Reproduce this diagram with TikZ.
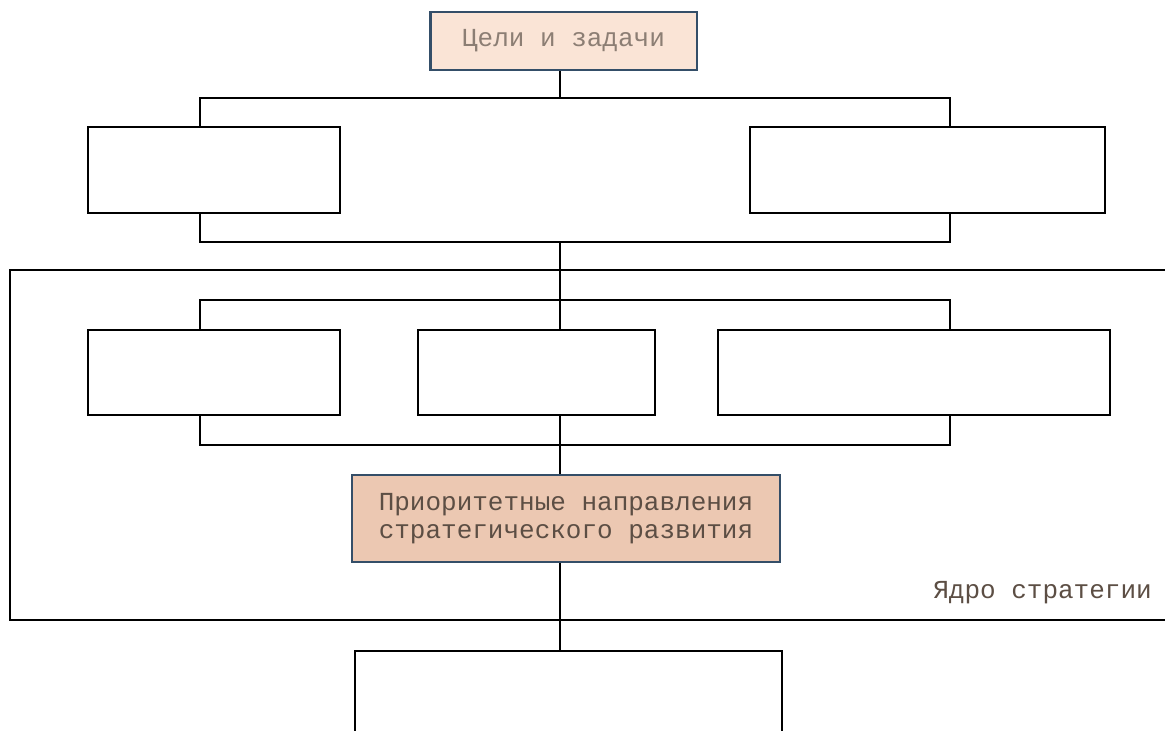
\documentclass[tikz,border=0pt]{standalone}
\usepackage{fontspec}
\setmonofont{Liberation Mono}
\usetikzlibrary{positioning}

\definecolor{peach}{RGB}{250,228,214}
\definecolor{peachdark}{RGB}{236,200,178}
\definecolor{rimblue}{RGB}{52,78,104}
\definecolor{inklight}{RGB}{140,126,116}
\definecolor{inkdark}{RGB}{92,78,68}

\tikzset{
  box/.style={draw=black, line width=1.3pt, fill=white, inner sep=0pt},
  keybox/.style={box, draw=rimblue, line width=2pt, align=center,
    font=\ttfamily\fontsize{19.5}{20.5}\selectfont},
  link/.style={draw=black, line width=1.3pt},
}

\begin{document}
\begin{tikzpicture}[x=0.75pt,y=0.75pt,yscale=-1,xscale=1]
  \useasboundingbox (0,0) rectangle (1165,731);
  \clip (0,0) rectangle (1165,731);

  % core frame
  \draw [link] (10,270) rectangle (1190,620);
  \node (core) [anchor=base east, inner sep=0pt, text=inkdark,
    font=\ttfamily\fontsize{19.5}{20.5}\selectfont] at (1152,598) {Ядро стратегии};

  % goals
  \node (goals) [keybox, fill=peach, text=inklight, minimum width=200pt, minimum height=43.5pt]
    at (563.5,41) {Цели и задачи};

  % first row
  \node (aL) [box, minimum width=189pt, minimum height=64.5pt] at (214,170) {};
  \node (aR) [box, minimum width=266pt, minimum height=64.5pt] at (927.5,170) {};

  % second row
  \node (bL) [box, minimum width=189pt, minimum height=63.75pt] at (214,372.5) {};
  \node (bM) [box, minimum width=177.75pt, minimum height=63.75pt] at (536.5,372.5) {};
  \node (bR) [box, minimum width=294pt, minimum height=63.75pt] at (914,372.5) {};

  % priorities
  \node (prio) [keybox, fill=peachdark, text=inkdark, minimum width=321pt, minimum height=65.25pt]
    at (566,518.5) {Приоритетные направления\\стратегического развития};

  % bottom box
  \node (last) [box, anchor=north, minimum width=320pt, minimum height=80pt] at (568.5,650) {};

  % bus points
  \coordinate (lx) at (200,0);
  \coordinate (mx) at (560,0);
  \coordinate (rx) at (950,0);
  \coordinate (busA) at (560,98);
  \coordinate (busB) at (560,242);
  \coordinate (busC) at (560,300);
  \coordinate (busD) at (560,445);

  % connectors
  \draw [link] (goals.south -| mx) -- (busA);
  \draw [link] (aL.north -| lx) |- (busA) -| (aR.north -| rx);
  \draw [link] (aL.south -| lx) |- (busB) -| (aR.south -| rx);
  \draw [link] (busB) -- (busC);
  \draw [link] (bL.north -| lx) |- (busC) -| (bR.north -| rx);
  \draw [link] (busC) -- (bM.north -| mx);
  \draw [link] (bL.south -| lx) |- (busD) -| (bR.south -| rx);
  \draw [link] (bM.south -| mx) -- (prio.north -| mx);
  \draw [link] (prio.south -| mx) -- (last.north -| mx);
\end{tikzpicture}
\end{document}
